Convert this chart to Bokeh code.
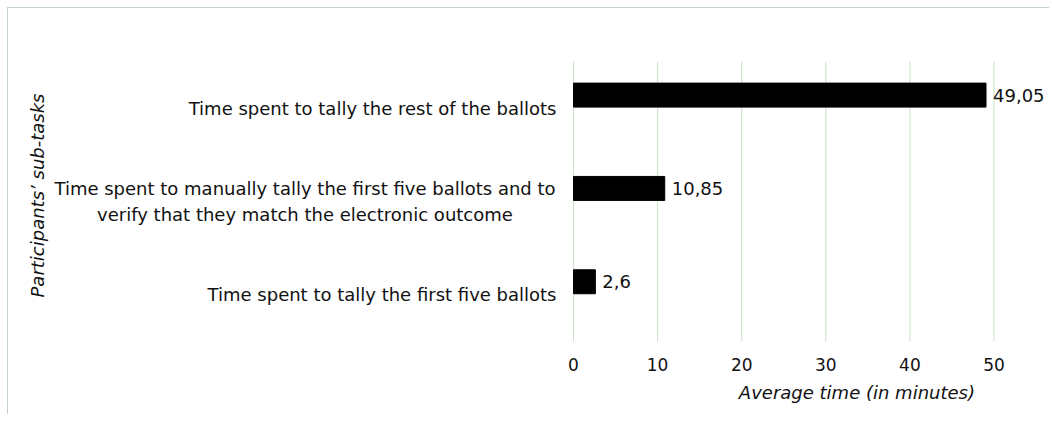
from bokeh.plotting import figure
from bokeh.models import ColumnDataSource, Range1d
from bokeh.embed import file_html
from bokeh.resources import INLINE
from bokeh.core.properties import value

# ---- data ----
categories = [
    "Time spent to tally the first five ballots",
    "Time spent to manually tally the first five ballots and to\nverify that they match the electronic outcome",
    "Time spent to tally the rest of the ballots",
]
minutes = [2.6, 10.85, 49.05]
value_labels = [f"{v:g}".replace(".", ",") for v in minutes]
x_ticks = [0, 10, 20, 30, 40, 50]
tick_labels = [str(t) for t in x_ticks]
x_title = "Average time (in minutes)"
y_title = "Participants\u2019 sub-tasks"

FONT = "DejaVu Sans"
GRID = "#cce3c8"
BORDER = "#c6d6c6"
TXT = "#111111"

# geometry (frame covers the whole canvas; data space extends left/below the plot area)
PX_PER_MIN = 8.41
PX_PER_CAT = 93.33
W, H = 1042, 407
X0_PX, Y0_PX = 565, 333          # pixel position (inside canvas) of x=0, y=0
x_lo = -X0_PX / PX_PER_MIN
x_hi = (W - X0_PX) / PX_PER_MIN
y_lo = -(H - Y0_PX) / PX_PER_CAT
y_hi = Y0_PX / PX_PER_CAT
BAR_SHIFT = 0.14
X_TITLE_AT = 33.7                # x-title centre, in minutes

n = len(categories)
pos = [i + 0.5 for i in range(n)]

p = figure(
    width=W, height=H,
    x_range=Range1d(x_lo, x_hi), y_range=Range1d(y_lo, y_hi),
    output_backend="svg", toolbar_location=None,
    min_border=0, min_border_left=0, min_border_right=0, min_border_top=0, min_border_bottom=0,
    styles={"border-top": f"1px solid {BORDER}", "border-left": f"1px solid {BORDER}",
            "margin-left": "7px", "margin-top": "7px"},
)
p.axis.visible = False
p.grid.visible = False
p.outline_line_color = None
p.background_fill_color = "white"
p.border_fill_color = "white"

# vertical gridlines
p.segment(x0=x_ticks, x1=x_ticks, y0=[0] * len(x_ticks), y1=[n] * len(x_ticks),
          line_color=GRID, line_width=1)

# bars
src = ColumnDataSource(dict(y=[q + BAR_SHIFT for q in pos], v=minutes, lab=value_labels))
p.hbar(y="y", right="v", left=0, height=0.257, source=src,
       fill_color="black", line_color="black")
p.text(x="v", y="y", text="lab", source=src, x_offset=7,
       text_align="left", text_baseline="middle",
       text_font=value(FONT), text_font_size="18px", text_color=TXT)

# x tick labels
p.text(x=x_ticks, y=[0] * len(x_ticks), text=tick_labels, y_offset=23,
       text_align="center", text_baseline="middle",
       text_font=value(FONT), text_font_size="17px", text_color=TXT)

# category labels
single = [(c, q) for c, q in zip(categories, pos) if "\n" not in c]
multi = [(c, q) for c, q in zip(categories, pos) if "\n" in c]
p.text(x=[0] * len(single), y=[q for _, q in single], text=[c for c, _ in single],
       x_offset=-17, text_align="right", text_baseline="middle",
       text_font=value(FONT), text_font_size="18px", text_color=TXT)
p.text(x=[0] * len(multi), y=[q for _, q in multi], text=[c for c, _ in multi],
       x_offset=-268.5, text_align="center", text_baseline="middle", text_line_height=1.2,
       text_font=value(FONT), text_font_size="18px", text_color=TXT)

# axis titles
p.text(x=[0], y=[n / 2], text=[y_title], x_offset=-536, y_offset=-6, angle=1.5707963,
       text_align="center", text_baseline="middle",
       text_font=value(FONT), text_font_style="italic", text_font_size="18px", text_color=TXT)
p.text(x=[X_TITLE_AT], y=[0], text=[x_title], y_offset=51,
       text_align="center", text_baseline="middle",
       text_font=value(FONT), text_font_style="italic", text_font_size="18px", text_color=TXT)

open("out.html", "w").write(file_html(p, INLINE))
